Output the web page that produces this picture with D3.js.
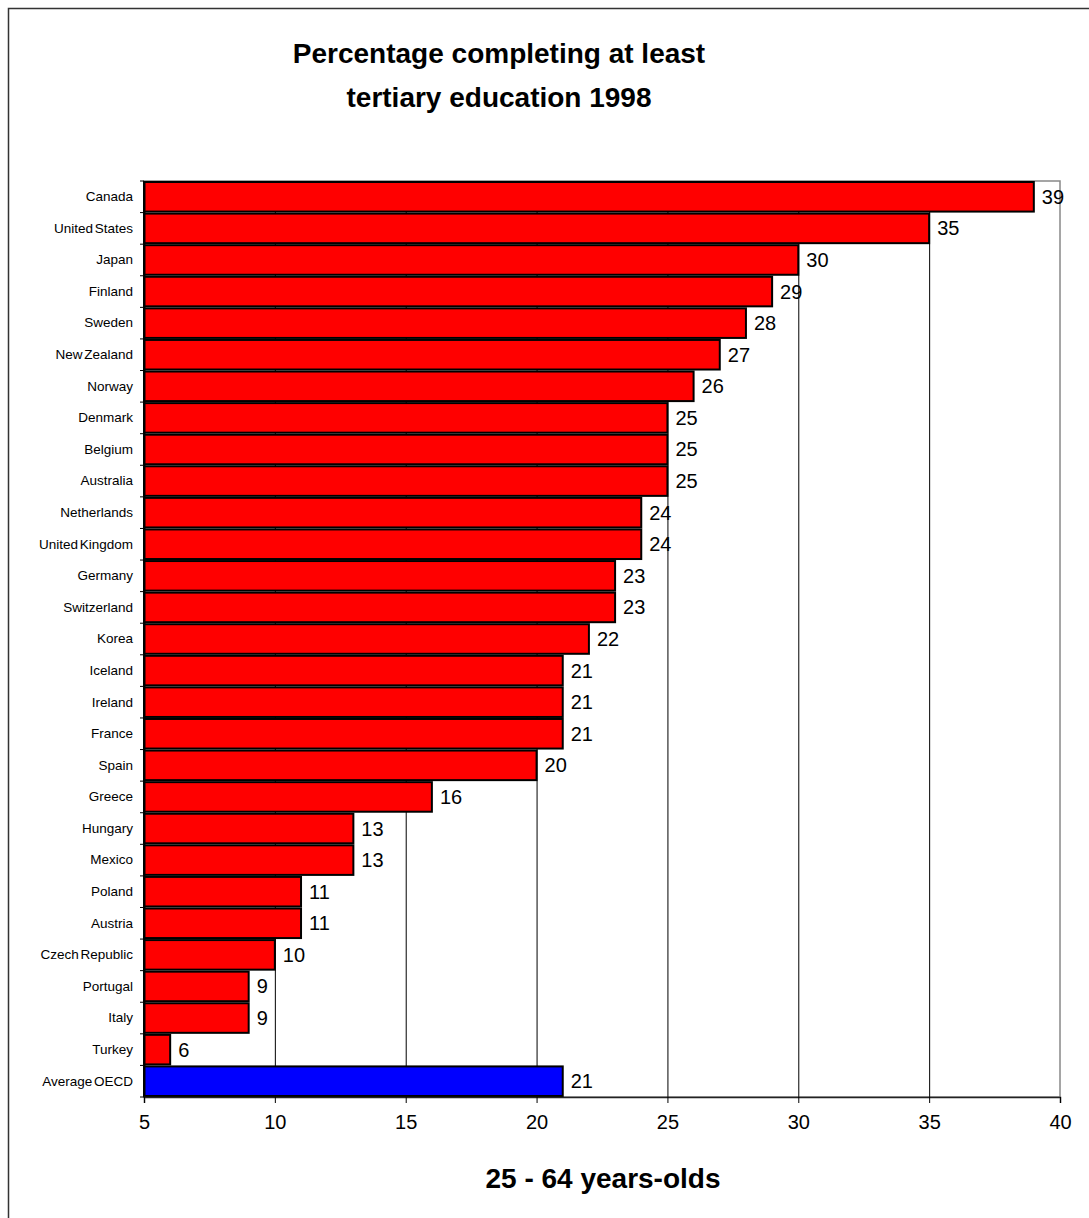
<!DOCTYPE html>
<html>
<head>
<meta charset="utf-8">
<script src="https://cdn.jsdelivr.net/npm/d3@7"></script>
<style>
  html, body { margin: 0; padding: 0; background: #fff; }
  svg { display: block; font-family: Arial, "Liberation Sans", sans-serif; }
</style>
</head>
<body>
<svg id="chart" width="1089" height="1218"></svg>
<script>
// Tertiary attainment, 25-64 year-olds, 1998 (%)
const countries = [
  "Canada", "United States", "Japan", "Finland", "Sweden", "New Zealand",
  "Norway", "Denmark", "Belgium", "Australia", "Netherlands", "United Kingdom",
  "Germany", "Switzerland", "Korea", "Iceland", "Ireland", "France", "Spain",
  "Greece", "Hungary", "Mexico", "Poland", "Austria", "Czech Republic",
  "Portugal", "Italy", "Turkey", "Average OECD"
];
const percentages = [
  39, 35, 30, 29, 28, 27, 26, 25, 25, 25, 24, 24, 23, 23, 22, 21, 21, 21, 20,
  16, 13, 13, 11, 11, 10, 9, 9, 6, 21
];
const averageLabel = "Average OECD";
const xTicks = [5, 10, 15, 20, 25, 30, 35, 40];
const titleLines = ["Percentage completing at least", "tertiary education 1998"];
const xAxisTitle = "25 - 64 years-olds";

const data = countries.map((c, i) => ({ country: c, value: percentages[i] }));

const svg = d3.select("#chart");
const plot = { left: 144, right: 1060, top: 181, bottom: 1097 };

const x = d3.scaleLinear().domain([5, 40]).range([plot.left, plot.right]);
const y = d3.scaleBand().domain(countries).range([plot.top, plot.bottom]).padding(0);

// outer frame (runs off the right and bottom edges)
svg.append("rect")
  .attr("x", 8.5).attr("y", 8.5)
  .attr("width", 1200).attr("height", 1400)
  .attr("fill", "none").attr("stroke", "#333").attr("stroke-width", 1.5);

// title
const title = svg.append("text")
  .attr("text-anchor", "middle")
  .attr("font-weight", "bold")
  .attr("font-size", 28)
  .attr("fill", "#000");
titleLines.forEach((t, i) => {
  title.append("tspan").attr("x", 499).attr("y", 63 + i * 44).text(t);
});

// plot border (top and right in grey)
svg.append("rect")
  .attr("x", plot.left).attr("y", plot.top)
  .attr("width", plot.right - plot.left).attr("height", plot.bottom - plot.top)
  .attr("fill", "none").attr("stroke", "#888").attr("stroke-width", 1.5);

// vertical gridlines
svg.append("g")
  .selectAll("line")
  .data(xTicks.filter(t => t > 5 && t < 40))
  .join("line")
  .attr("x1", d => x(d) + 0.5).attr("x2", d => x(d) + 0.5)
  .attr("y1", plot.top).attr("y2", plot.bottom)
  .attr("stroke", "#000").attr("stroke-width", 1);

// bars
svg.append("g")
  .selectAll("rect")
  .data(data)
  .join("rect")
  .attr("x", x(5))
  .attr("y", d => y(d.country) + 1)
  .attr("width", d => x(d.value) - x(5))
  .attr("height", y.bandwidth() - 2)
  .attr("fill", d => d.country === averageLabel ? "#0000FF" : "#FF0000")
  .attr("stroke", "#000")
  .attr("stroke-width", 2);

// value labels
svg.append("g")
  .selectAll("text")
  .data(data)
  .join("text")
  .attr("x", d => x(d.value) + 8)
  .attr("y", d => y(d.country) + y.bandwidth() / 2)
  .attr("dy", "0.35em")
  .attr("font-size", 20)
  .attr("fill", "#000")
  .text(d => d.value);

// y axis (category labels)
const yAxis = d3.axisLeft(y).tickSize(0).tickPadding(11);
const yg = svg.append("g").attr("transform", `translate(${plot.left},0)`).call(yAxis);
yg.select(".domain").attr("stroke", "#000").attr("stroke-width", 2);
yg.selectAll("text").attr("font-size", 13.5).attr("font-family", "Arial, 'Liberation Sans', sans-serif")
  .attr("fill", "#000").style("word-spacing", "-2px");
// tick marks on category boundaries
svg.append("g")
  .selectAll("line")
  .data(countries.concat([null]))
  .join("line")
  .attr("x1", plot.left - 4).attr("x2", plot.left)
  .attr("y1", (d, i) => plot.top + i * y.step())
  .attr("y2", (d, i) => plot.top + i * y.step())
  .attr("stroke", "#000").attr("stroke-width", 1);

// x axis
const xAxis = d3.axisBottom(x).tickValues(xTicks).tickSize(6).tickPadding(12).tickFormat(d3.format("d"));
const xg = svg.append("g").attr("transform", `translate(0,${plot.bottom})`).call(xAxis);
xg.select(".domain").attr("stroke", "#222").attr("stroke-width", 1.5);
xg.selectAll(".tick line").attr("stroke", "#000");
xg.selectAll("text").attr("font-size", 20).attr("font-family", "Arial, 'Liberation Sans', sans-serif").attr("fill", "#000");

// x axis title
svg.append("text")
  .attr("x", 603).attr("y", 1188)
  .attr("text-anchor", "middle")
  .attr("font-weight", "bold")
  .attr("font-size", 28)
  .attr("fill", "#000")
  .text(xAxisTitle);
</script>
</body>
</html>
